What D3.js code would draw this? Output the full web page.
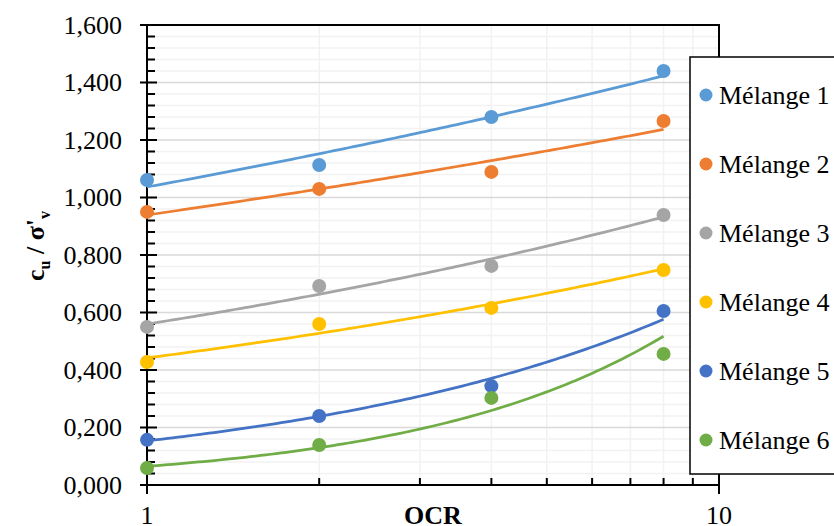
<!DOCTYPE html>
<html>
<head>
<meta charset="utf-8">
<script src="https://cdn.jsdelivr.net/npm/d3@7"></script>
<style>
  body { margin: 0; background: #fff; }
</style>
</head>
<body>
<div id="chart"></div>
<script>
// OCR values (log axis) and cu/sigma'v per mix
const ocr = [1, 2, 4, 8];
const names = ["Mélange 1", "Mélange 2", "Mélange 3", "Mélange 4", "Mélange 5", "Mélange 6"];
const colors = ["#5B9BD5", "#ED7D31", "#A5A5A5", "#FFC000", "#4472C4", "#70AD47"];
const m1 = [1.061, 1.113, 1.280, 1.440];
const m2 = [0.950, 1.030, 1.089, 1.266];
const m3 = [0.550, 0.692, 0.762, 0.939];
const m4 = [0.428, 0.560, 0.616, 0.748];
const m5 = [0.157, 0.240, 0.344, 0.605];
const m6 = [0.059, 0.139, 0.303, 0.456];
const yTicks = [0, 0.2, 0.4, 0.6, 0.8, 1.0, 1.2, 1.4, 1.6];

const series = [m1, m2, m3, m4, m5, m6].map((vals, i) => ({
    name: names[i], color: colors[i],
    points: vals.map((v, j) => ({x: ocr[j], y: v}))
}));

const W = 834, H = 526;
const FONT = "Liberation Serif, LiberationSerif, Tinos, Times New Roman, Times, Nimbus Roman, Nimbus Roman No9 L, FreeSerif, Noto Serif, DejaVu Serif, serif";
const x = d3.scaleLog().domain([1, 10]).range([147, 719]);
const y = d3.scaleLinear().domain([0, 1.6]).range([485, 25]);
const fmt = d3.formatLocale({decimal: ",", thousands: ".", grouping: [3], currency: ["", ""]}).format(".3f");

const svg = d3.select("#chart").append("svg")
    .attr("width", W)
    .attr("height", H)
    .style("font-family", FONT);

// gridlines
const minorY = d3.range(0, 1.6001, 0.04).filter(v => Math.abs(v / 0.2 - Math.round(v / 0.2)) > 1e-6);
svg.append("g").selectAll("line").data(minorY).enter().append("line")
    .attr("x1", 147).attr("x2", 719)
    .attr("y1", d => y(d)).attr("y2", d => y(d))
    .attr("stroke", "#f2f2f2").attr("stroke-width", 1.5);
const minorX = [2, 3, 4, 5, 6, 7, 8, 9];
svg.append("g").selectAll("line").data(minorX).enter().append("line")
    .attr("x1", d => x(d)).attr("x2", d => x(d))
    .attr("y1", 25).attr("y2", 485)
    .attr("stroke", "#f2f2f2").attr("stroke-width", 1.5);
svg.append("g").selectAll("line").data(yTicks.slice(1, -1)).enter().append("line")
    .attr("x1", 147).attr("x2", 719)
    .attr("y1", d => y(d)).attr("y2", d => y(d))
    .attr("stroke", "#d9d9d9").attr("stroke-width", 1.5);

// frame top and right
svg.append("path")
    .attr("d", `M${x(1)},${y(1.6)}H${x(10)}V${y(0)}`)
    .attr("fill", "none").attr("stroke", "#000").attr("stroke-width", 2);

// y axis
const yAxis = svg.append("g").attr("transform", `translate(${x(1)},0)`);
yAxis.append("line").attr("y1", y(1.6)).attr("y2", y(0)).attr("stroke", "#000").attr("stroke-width", 2);
yAxis.selectAll(".minor").data(minorY).enter().append("line")
    .attr("x1", 0).attr("x2", 8)
    .attr("y1", d => y(d)).attr("y2", d => y(d))
    .attr("stroke", "#000").attr("stroke-width", 2);
yAxis.selectAll(".major").data(yTicks).enter().append("line")
    .attr("x1", -7).attr("x2", 10)
    .attr("y1", d => y(d)).attr("y2", d => y(d))
    .attr("stroke", "#000").attr("stroke-width", 2);
yAxis.selectAll("text").data(yTicks).enter().append("text")
    .attr("x", -25).attr("y", d => y(d))
    .attr("dy", "0.34em")
    .attr("text-anchor", "end")
    .style("font-size", "26px")
    .text(d => fmt(d));

// x axis
const xAxis = svg.append("g").attr("transform", `translate(0,${y(0)})`);
xAxis.append("line").attr("x1", x(1)).attr("x2", x(10)).attr("stroke", "#000").attr("stroke-width", 2);
xAxis.selectAll(".minor").data(minorX).enter().append("line")
    .attr("x1", d => x(d)).attr("x2", d => x(d))
    .attr("y1", 0).attr("y2", -7)
    .attr("stroke", "#000").attr("stroke-width", 2);
xAxis.selectAll(".major").data([1, 10]).enter().append("line")
    .attr("x1", d => x(d)).attr("x2", d => x(d))
    .attr("y1", -7).attr("y2", 9)
    .attr("stroke", "#000").attr("stroke-width", 2);
xAxis.selectAll("text").data([1, 10]).enter().append("text")
    .attr("x", d => x(d)).attr("y", 39)
    .attr("text-anchor", "middle")
    .style("font-size", "26px")
    .text(d => d);

// axis titles
svg.append("text")
    .attr("x", 433).attr("y", 524)
    .attr("text-anchor", "middle")
    .style("font-size", "26px").style("font-weight", "bold")
    .text("OCR");

const yt = svg.append("text")
    .attr("transform", "translate(44,246) rotate(-90)")
    .attr("text-anchor", "middle")
    .style("font-size", "26px").style("font-weight", "bold");
yt.append("tspan").text("c");
yt.append("tspan").attr("dy", 6).style("font-size", "16px").text("u");
yt.append("tspan").attr("dy", -6).text(" / σ'");
yt.append("tspan").attr("dy", 6).style("font-size", "16px").text("v");

// power trendline (y = a * x^b), as Excel fits it
function powerFit(pts) {
    const lx = pts.map(p => Math.log(p.x)), ly = pts.map(p => Math.log(p.y));
    const mx = d3.mean(lx), my = d3.mean(ly);
    const b = d3.sum(lx, (v, i) => (v - mx) * (ly[i] - my)) / d3.sum(lx, v => (v - mx) ** 2);
    const a = Math.exp(my - b * mx);
    return t => a * Math.pow(t, b);
}

const line = d3.line().x(d => x(d[0])).y(d => y(d[1]));
const plot = svg.append("g");

plot.selectAll("g.pts").data(series).enter().append("g")
    .attr("fill", d => d.color)
    .selectAll("circle").data(d => d.points).enter().append("circle")
    .attr("cx", d => x(d.x)).attr("cy", d => y(d.y)).attr("r", 7);

series.forEach(s => {
    const f = powerFit(s.points);
    const xs = d3.range(0, 101).map(i => Math.pow(8, i / 100));
    plot.append("path")
        .attr("d", line(xs.map(t => [t, f(t)])))
        .attr("fill", "none")
        .attr("stroke", s.color)
        .attr("stroke-width", 2.75);
});

// legend
const lg = svg.append("g");
lg.append("rect")
    .attr("x", 690).attr("y", 57).attr("width", 200).attr("height", 417)
    .attr("fill", "#fff").attr("stroke", "#000").attr("stroke-width", 1.5);
const items = lg.selectAll("g.item").data(series).enter().append("g")
    .attr("transform", (d, i) => `translate(706,${95 + i * 69})`);
items.append("circle").attr("r", 6.5).attr("fill", d => d.color);
items.append("text")
    .attr("x", 13).attr("dy", "0.34em")
    .style("font-size", "26px")
    .text(d => d.name);
</script>
</body>
</html>
